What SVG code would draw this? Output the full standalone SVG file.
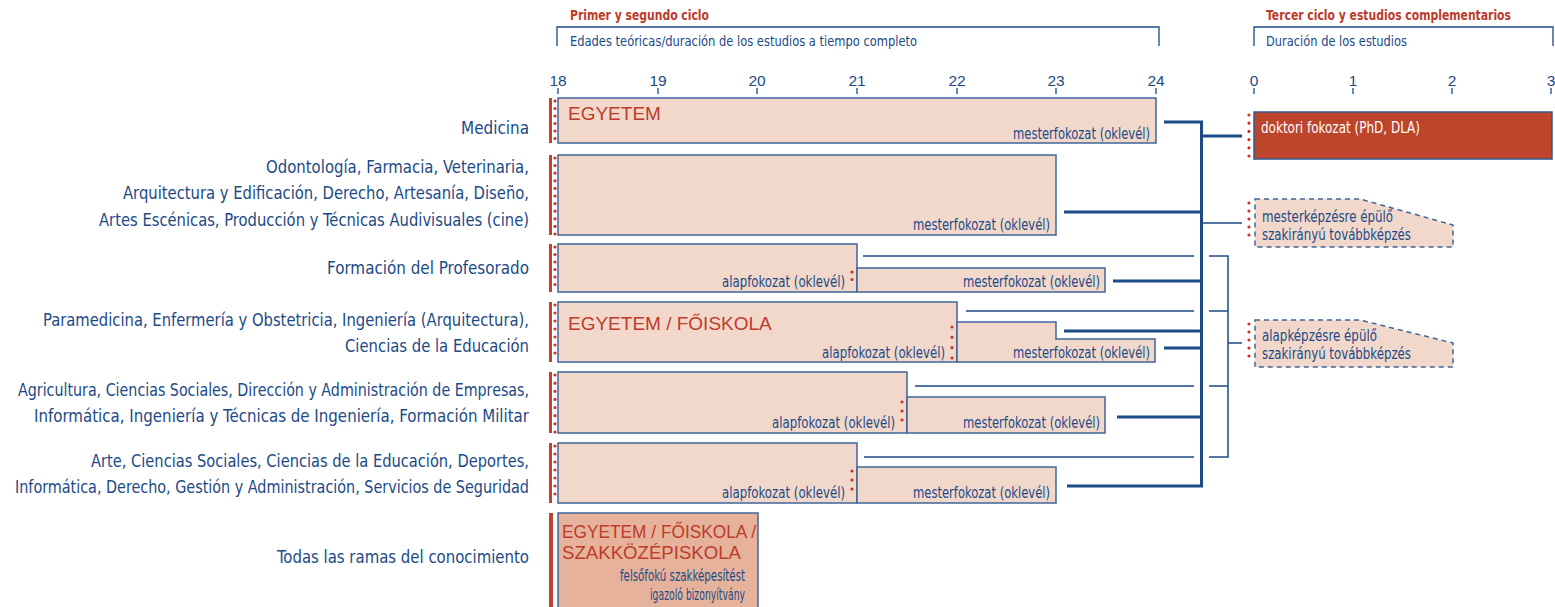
<svg xmlns="http://www.w3.org/2000/svg" width="1555" height="607" viewBox="0 0 1555 607">
<style>
.lbl{font-family:"Liberation Sans Narrow","DejaVu Sans Condensed","Liberation Sans",sans-serif;font-size:18.5px;fill:#1b4a87;text-anchor:end}
.hd{font-family:"Liberation Sans Narrow","DejaVu Sans Condensed","Liberation Sans",sans-serif;font-weight:bold;font-size:14px;fill:#be3a2a}
.sub{font-family:"Liberation Sans Narrow","DejaVu Sans Condensed","Liberation Sans",sans-serif;font-size:14px;fill:#1b4a87}
.tick{font-family:"Liberation Sans",sans-serif;font-size:15.5px;fill:#1b4a87;text-anchor:middle}
.bar{fill:#f2d8cb;stroke:#3f6598;stroke-width:1.5}
.bl{font-family:"Liberation Sans Narrow","DejaVu Sans Condensed","Liberation Sans",sans-serif;font-size:15.5px;fill:#1b4a87;text-anchor:end}
.blw{font-family:"Liberation Sans Narrow","DejaVu Sans Condensed","Liberation Sans",sans-serif;font-size:16.5px;fill:#ffffff}
.bls{font-family:"Liberation Sans Narrow","DejaVu Sans Condensed","Liberation Sans",sans-serif;font-size:15.5px;fill:#1b4a87}
.big{font-family:"Liberation Sans",sans-serif;font-size:19px;fill:#be3a2a}
.mk{fill:#c1432b}
.dots{stroke:#c4352a;stroke-width:3.2;stroke-linecap:round;fill:none}
.thick{stroke:#1b4a87;stroke-width:3;fill:none}
.thin{stroke:#1b4a87;stroke-width:1.5;fill:none}
.axis{stroke:#1b4a87;stroke-width:1.3;fill:none}
.dash{fill:#f2d8cb;stroke:#3f6598;stroke-width:1.5;stroke-dasharray:5 4}
</style>

<g id="header">
  <text class="hd" x="570" y="20" textLength="139" lengthAdjust="spacingAndGlyphs">Primer y segundo ciclo</text>
  <path class="axis" d="M557,46 V27 H1159 V46"/>
  <text class="sub" x="570" y="46" textLength="347" lengthAdjust="spacingAndGlyphs">Edades teóricas/duración de los estudios a tiempo completo</text>
  <text class="hd" x="1266" y="20" textLength="245" lengthAdjust="spacingAndGlyphs">Tercer ciclo y estudios complementarios</text>
  <path class="axis" d="M1254,46 V27 H1553 V46"/>
  <text class="sub" x="1266" y="46" textLength="141" lengthAdjust="spacingAndGlyphs">Duración de los estudios</text>
</g>

<g id="axis-left">
  <text class="tick" x="558" y="86">18</text>
  <text class="tick" x="658" y="86">19</text>
  <text class="tick" x="757" y="86">20</text>
  <text class="tick" x="857" y="86">21</text>
  <text class="tick" x="957" y="86">22</text>
  <text class="tick" x="1056" y="86">23</text>
  <text class="tick" x="1156" y="86">24</text>
  <path class="axis" d="M558,88 V94 M658,88 V94 M757,88 V94 M857,88 V94 M957,88 V94 M1056,88 V94 M1156,88 V94"/>
</g>
<g id="axis-right">
  <text class="tick" x="1254" y="86">0</text>
  <text class="tick" x="1353" y="86">1</text>
  <text class="tick" x="1452" y="86">2</text>
  <text class="tick" x="1551" y="86">3</text>
  <path class="axis" d="M1254,88 V94 M1353,88 V94 M1452,88 V94 M1551,88 V94"/>
</g>

<g id="labels">
  <text class="lbl" x="529" y="134" textLength="68" lengthAdjust="spacingAndGlyphs">Medicina</text>
  <text class="lbl" x="529" y="173" textLength="263" lengthAdjust="spacingAndGlyphs">Odontología, Farmacia, Veterinaria,</text>
  <text class="lbl" x="529" y="199" textLength="406" lengthAdjust="spacingAndGlyphs">Arquitectura y Edificación, Derecho, Artesanía, Diseño,</text>
  <text class="lbl" x="529" y="226" textLength="430" lengthAdjust="spacingAndGlyphs">Artes Escénicas, Producción y Técnicas Audivisuales (cine)</text>
  <text class="lbl" x="529" y="274" textLength="202" lengthAdjust="spacingAndGlyphs">Formación del Profesorado</text>
  <text class="lbl" x="529" y="326" textLength="486" lengthAdjust="spacingAndGlyphs">Paramedicina, Enfermería y Obstetricia, Ingeniería (Arquitectura),</text>
  <text class="lbl" x="529" y="352" textLength="184" lengthAdjust="spacingAndGlyphs">Ciencias de la Educación</text>
  <text class="lbl" x="529" y="396" textLength="511" lengthAdjust="spacingAndGlyphs">Agricultura, Ciencias Sociales, Dirección y Administración de Empresas,</text>
  <text class="lbl" x="529" y="422" textLength="495" lengthAdjust="spacingAndGlyphs">Informática, Ingeniería y Técnicas de  Ingeniería, Formación Militar</text>
  <text class="lbl" x="529" y="467" textLength="438" lengthAdjust="spacingAndGlyphs">Arte, Ciencias Sociales, Ciencias de la Educación, Deportes,</text>
  <text class="lbl" x="529" y="493" textLength="514" lengthAdjust="spacingAndGlyphs">Informática, Derecho, Gestión y Administración, Servicios de Seguridad</text>
  <text class="lbl" x="529" y="563" textLength="252" lengthAdjust="spacingAndGlyphs">Todas las ramas del conocimiento</text>
</g>

<g id="row-medicina">
  <rect class="mk" x="549" y="98" width="3" height="45"/>
  <line class="dots" x1="555" y1="101" x2="555" y2="142" stroke-dasharray="0 7.5"/>
  <rect class="bar" x="558" y="98" width="598" height="45"/>
  <text class="big" x="568" y="120">EGYETEM</text>
  <text class="bl" x="1150" y="139" textLength="137" lengthAdjust="spacingAndGlyphs">mesterfokozat (oklevél)</text>
</g>

<g id="row-odontologia">
  <rect class="mk" x="549" y="155" width="3" height="80"/>
  <line class="dots" x1="555" y1="158" x2="555" y2="234" stroke-dasharray="0 7.6"/>
  <rect class="bar" x="558" y="155" width="498" height="80"/>
  <text class="bl" x="1050" y="230" textLength="137" lengthAdjust="spacingAndGlyphs">mesterfokozat (oklevél)</text>
</g>

<g id="row-formacion">
  <rect class="mk" x="549" y="244" width="3" height="48"/>
  <line class="dots" x1="555" y1="247" x2="555" y2="292" stroke-dasharray="0 7.5"/>
  <rect class="bar" x="558" y="244" width="299" height="48"/>
  <rect class="bar" x="857" y="268" width="248" height="24"/>
  <line class="dots" x1="852" y1="272" x2="852" y2="287" stroke-dasharray="0 7.5"/>
  <text class="bl" x="845" y="287" textLength="123" lengthAdjust="spacingAndGlyphs">alapfokozat (oklevél)</text>
  <text class="bl" x="1100" y="287" textLength="137" lengthAdjust="spacingAndGlyphs">mesterfokozat (oklevél)</text>
</g>

<g id="row-paramedicina">
  <rect class="mk" x="549" y="302" width="3" height="60"/>
  <line class="dots" x1="555" y1="305" x2="555" y2="361" stroke-dasharray="0 8"/>
  <rect class="bar" x="558" y="302" width="399" height="60"/>
  <path class="bar" d="M957,322 H1056 V339 H1155 V362 H957 Z"/>
  <line class="dots" x1="952" y1="327" x2="952" y2="358" stroke-dasharray="0 10.33"/>
  <text class="big" x="568" y="330">EGYETEM / FŐISKOLA</text>
  <text class="bl" x="945" y="358" textLength="123" lengthAdjust="spacingAndGlyphs">alapfokozat (oklevél)</text>
  <text class="bl" x="1150" y="358" textLength="137" lengthAdjust="spacingAndGlyphs">mesterfokozat (oklevél)</text>
</g>

<g id="row-agricultura">
  <rect class="mk" x="549" y="372" width="3" height="61"/>
  <line class="dots" x1="555" y1="375" x2="555" y2="432" stroke-dasharray="0 8.14"/>
  <rect class="bar" x="558" y="372" width="349" height="61"/>
  <rect class="bar" x="907" y="397" width="198" height="36"/>
  <line class="dots" x1="902" y1="402" x2="902" y2="429" stroke-dasharray="0 9"/>
  <text class="bl" x="895" y="428" textLength="123" lengthAdjust="spacingAndGlyphs">alapfokozat (oklevél)</text>
  <text class="bl" x="1100" y="428" textLength="137" lengthAdjust="spacingAndGlyphs">mesterfokozat (oklevél)</text>
</g>

<g id="row-arte">
  <rect class="mk" x="549" y="443" width="3" height="60"/>
  <line class="dots" x1="555" y1="446" x2="555" y2="502" stroke-dasharray="0 8"/>
  <rect class="bar" x="558" y="443" width="299" height="60"/>
  <rect class="bar" x="857" y="467" width="199" height="36"/>
  <line class="dots" x1="852" y1="471" x2="852" y2="498" stroke-dasharray="0 9"/>
  <text class="bl" x="845" y="498" textLength="123" lengthAdjust="spacingAndGlyphs">alapfokozat (oklevél)</text>
  <text class="bl" x="1050" y="498" textLength="137" lengthAdjust="spacingAndGlyphs">mesterfokozat (oklevél)</text>
</g>

<g id="row-todas">
  <rect class="mk" x="549" y="513" width="4" height="96"/>
  <rect x="558" y="513" width="200" height="96" fill="#e6b29b" stroke="#3f6598" stroke-width="1.5"/>
  <text class="big" x="562" y="538" style="font-size:17.5px" textLength="194" lengthAdjust="spacingAndGlyphs">EGYETEM / FŐISKOLA /</text>
  <text class="big" x="562" y="559" style="font-size:17.5px" textLength="179" lengthAdjust="spacingAndGlyphs">SZAKKÖZÉPISKOLA</text>
  <text class="bl" x="745" y="581" textLength="125" lengthAdjust="spacingAndGlyphs">felsőfokú szakképesítést</text>
  <text class="bl" x="745" y="600" textLength="95" lengthAdjust="spacingAndGlyphs">igazoló bizonyítvány</text>
</g>

<g id="doktori">
  <line class="dots" x1="1249" y1="115" x2="1249" y2="156" stroke-dasharray="0 8.2"/>
  <rect x="1254" y="112" width="298" height="47" fill="#bc452b" stroke="#2f5a90" stroke-width="1.5"/>
  <text class="blw" x="1261" y="133" textLength="159" lengthAdjust="spacingAndGlyphs">doktori fokozat (PhD, DLA)</text>
</g>

<g id="mester-tovabbkepzes">
  <line class="dots" x1="1249" y1="203" x2="1249" y2="243" stroke-dasharray="0 8"/>
  <path class="dash" d="M1255,199 H1360 L1453,225 V247 H1255 Z"/>
  <text class="bls" x="1262" y="222" textLength="131" lengthAdjust="spacingAndGlyphs">mesterképzésre épülő</text>
  <text class="bls" x="1262" y="240" textLength="149" lengthAdjust="spacingAndGlyphs">szakirányú továbbképzés</text>
</g>

<g id="alap-tovabbkepzes">
  <line class="dots" x1="1249" y1="324" x2="1249" y2="364" stroke-dasharray="0 8"/>
  <path class="dash" d="M1255,320 H1360 L1453,343 V367 H1255 Z"/>
  <text class="bls" x="1262" y="341" textLength="115" lengthAdjust="spacingAndGlyphs">alapképzésre épülő</text>
  <text class="bls" x="1262" y="359" textLength="149" lengthAdjust="spacingAndGlyphs">szakirányú továbbképzés</text>
</g>

<g id="connectors">
  <path class="thick" d="M1164,122 H1201.5 V486 H1067"/>
  <path class="thick" d="M1064,212 H1201.5 M1113,281 H1201.5 M1064,331 H1201.5 M1164,348 H1201.5 M1117,417 H1201.5"/>
  <path class="thick" d="M1201.5,136 H1242"/>
  <path class="thin" d="M1201.5,223 H1242"/>
  <path class="thin" d="M863,256 H1194 M966,311 H1194 M915,386 H1194 M864,457 H1194"/>
  <path class="thin" d="M1209,256 H1228 V457 H1209 M1209,311 H1228 M1209,386 H1228 M1228,343 H1242"/>
</g>
</svg>
